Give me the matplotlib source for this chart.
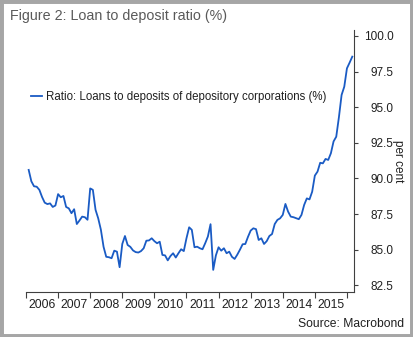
import matplotlib.pyplot as plt
import matplotlib.patches as patches
import numpy as np

# monthly loan to deposit ratio, Jan 2006 .. Feb 2016
ratio = [90.6, 89.8, 89.45, 89.42, 89.2, 88.7, 88.3, 88.2, 88.25, 88.0,
         88.1, 88.9, 88.68, 88.77, 88.0, 87.9, 87.56, 87.84, 86.8, 87.05,
         87.32, 87.28, 87.1, 89.3, 89.2, 87.8, 87.2, 86.4, 85.2, 84.5,
         84.47, 84.4, 84.93, 84.86, 83.77, 85.4, 85.96, 85.33, 85.2, 84.95,
         84.83, 84.8, 84.9, 85.1, 85.63, 85.65, 85.8, 85.6, 85.45, 85.56,
         84.63, 84.6, 84.25, 84.55, 84.75, 84.45, 84.75, 85.03, 84.9, 85.8,
         86.57, 86.39, 85.17, 85.21, 85.1, 85.03, 85.45, 85.92, 86.79, 83.58,
         84.6, 85.17, 84.93, 85.1, 84.75, 84.86, 84.5, 84.35, 84.65, 85.0,
         85.38, 85.4, 85.9, 86.34, 86.5, 86.44, 85.68, 85.8, 85.4, 85.6,
         85.96, 86.1, 86.8, 87.09, 87.2, 87.44, 88.21, 87.67, 87.32, 87.28,
         87.21, 87.14, 87.44, 88.14, 88.6, 88.53, 89.07, 90.2, 90.48, 91.1,
         91.06, 91.37, 91.3, 91.77, 92.6, 92.93, 94.3, 95.86, 96.44, 97.73,
         98.13, 98.55]
months = 2006 + (np.arange(len(ratio)) + 1) / 12.0
years = list(range(2006, 2016))
yticks = [82.5, 85.0, 87.5, 90.0, 92.5, 95.0, 97.5, 100.0]

plt.rcParams['font.family'] = ['Liberation Sans', 'DejaVu Sans']

fig = plt.figure(figsize=(4.13, 3.37), dpi=100)
ax = fig.add_axes([26/413., 1-291.7/337., 328/413., 261.4/337.])

ax.plot(months, ratio, color='#1a5bc4', lw=1.3, label='Ratio: Loans to deposits of depository corporations (%)')

ax.set_xlim(2006, 2016.22)
ax.set_ylim(82.05, 100.4)

for s in ['left', 'top']:
	ax.spines[s].set_visible(False)
for s in ['right', 'bottom']:
	ax.spines[s].set_color('#404040')
	ax.spines[s].set_linewidth(0.8)

ax.yaxis.tick_right()
ax.set_yticks(yticks)
ax.set_yticklabels(['{:.1f}'.format(v) for v in yticks])
ax.tick_params(axis='y', direction='out', length=3, width=0.8, colors='#404040',
	labelcolor='#202020', labelsize=8.5, pad=25.5)
for lab in ax.get_yticklabels():
	lab.set_horizontalalignment('right')

ax.set_xticks(list(range(2006, 2017)))
ax.set_xticklabels([])
ax.set_xticks([y + 0.5 for y in years], minor=True)
ax.set_xticklabels([str(y) for y in years], minor=True)
ax.tick_params(axis='x', which='major', direction='out', length=4, width=0.8, colors='#404040')
ax.tick_params(axis='x', which='minor', length=0, labelsize=8.7, labelcolor='#202020', pad=5)

leg = ax.legend(loc='upper left', bbox_to_anchor=(0.0, 0.785), frameon=False, fontsize=8.3,
	handlelength=1.0, handletextpad=0.3, borderaxespad=0.0)
for t in leg.get_texts():
	t.set_color('#202020')

fig.text(10/413., 1-16/337., 'Figure 2: Loan to deposit ratio (%)', fontsize=10.3,
	color='#595959', ha='left', va='center')
fig.text(398/413., 1-161/337., 'per cent', fontsize=8.5, rotation=270,
	color='#202020', ha='center', va='center')
fig.text(404/413., 1-324/337., 'Source: Macrobond', fontsize=8.7,
	color='#202020', ha='right', va='center')

fig.patches.append(patches.Rectangle((0, 0), 1, 1, transform=fig.transFigure,
	fill=False, edgecolor='#a6a6a6', lw=5))

fig.savefig('out.png', dpi=100)
